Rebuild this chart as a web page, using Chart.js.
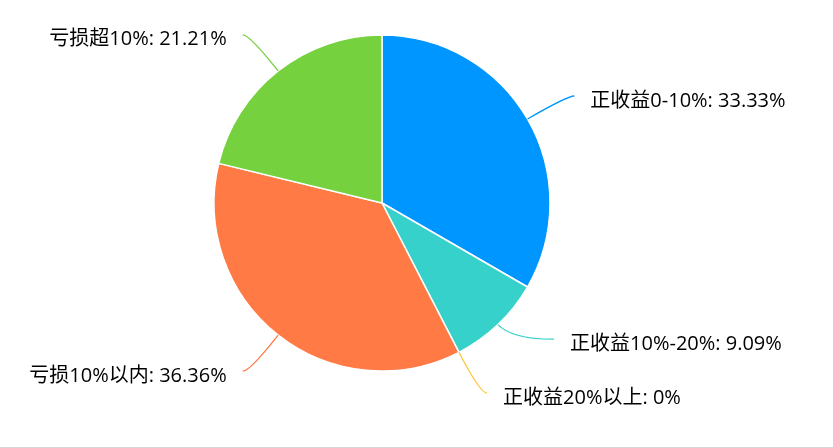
<!DOCTYPE html>
<html>
<head>
<meta charset="utf-8">
<script src="https://cdn.jsdelivr.net/npm/chart.js@4.4.1/dist/chart.umd.min.js"></script>
<style>
  html, body { margin: 0; padding: 0; background: #fff; }
  #box { width: 833px; height: 447px; border-bottom: 1px solid #d6d6d6; }
  canvas { display: block; }
</style>
</head>
<body>
<div id="box"><canvas id="pieChart" width="833" height="447"></canvas></div>
<script>
const categories = ["正收益0-10%", "正收益10%-20%", "正收益20%以上", "亏损10%以内", "亏损超10%"];
const values = [33.33, 9.09, 0, 36.36, 21.21];
const colors = ["#0096ff", "#36d1ca", "#ffc53d", "#ff7a45", "#75d13d"];

const LEN1 = 46;     // first leader segment
const LEN2 = 7;      // horizontal leader segment
const TEXT_GAP = 16;
const MIN_GAP = 54;
const LABEL_FONT = '20px "Open Sans", "Noto Sans CJK SC", sans-serif';

function pctText(v) {
  let total = values.reduce((a, b) => a + b, 0);
  return parseFloat((v / total * 100).toFixed(2)) + "%";
}

const pieLabels = {
  id: "pieLabels",
  afterDatasetsDraw(chart) {
    const ctx = chart.ctx;
    const arcs = chart.getDatasetMeta(0).data;

    let items = arcs.map(function (arc, i) {
      let p = arc.getProps(["x", "y", "startAngle", "endAngle", "outerRadius"], true);
      let mid = (p.startAngle + p.endAngle) / 2;
      let cos = Math.cos(mid), sin = Math.sin(mid);
      let R = p.outerRadius + LEN1;
      return {
        i: i, cx: p.x, cy: p.y, cos: cos, sin: sin, R: R,
        sx: p.x + cos * p.outerRadius,
        sy: p.y + sin * p.outerRadius,
        ey: p.y + sin * R,
        right: cos >= 0
      };
    });

    // push labels apart on each side, bottom one stays
    [true, false].forEach(function (side) {
      let list = items.filter(d => d.right === side).sort((a, b) => b.ey - a.ey);
      for (let k = 1; k < list.length; k++) {
        if (list[k - 1].ey - list[k].ey < MIN_GAP) list[k].ey = list[k - 1].ey - MIN_GAP;
      }
    });

    ctx.save();
    ctx.font = LABEL_FONT;
    ctx.textBaseline = "middle";
    items.forEach(function (d) {
      let dir = d.right ? 1 : -1;
      let dy = d.ey - d.cy;
      let ex = d.cx + dir * Math.sqrt(Math.max(d.R * d.R - dy * dy, 0));
      let endX = ex + dir * LEN2;
      let t = Math.abs(d.sin) > 0.01 ? (d.ey - d.sy) / d.sin : LEN1;
      t = Math.max(0, Math.min(t, LEN1));
      let ctrlX = d.sx + d.cos * t;

      ctx.strokeStyle = colors[d.i];
      ctx.lineWidth = 1.3;
      ctx.beginPath();
      ctx.moveTo(d.sx, d.sy);
      ctx.quadraticCurveTo(ctrlX, d.ey, endX, d.ey);
      ctx.stroke();

      ctx.fillStyle = "#000";
      ctx.textAlign = d.right ? "left" : "right";
      ctx.fillText(categories[d.i] + ": " + pctText(values[d.i]), endX + dir * TEXT_GAP, d.ey + 5);
    });
    ctx.restore();
  }
};

new Chart(document.getElementById("pieChart"), {
  type: "pie",
  data: {
    labels: categories,
    datasets: [
      {
        data: values,
        backgroundColor: colors,
        borderColor: "#fff",
        borderWidth: 1.5,
        radius: 168
      }
    ]
  },
  options: {
    responsive: false,
    animation: false,
    layout: { padding: { left: 214, right: 283, top: 35, bottom: 76 } },
    plugins: {
      legend: { display: false },
      tooltip: { enabled: false }
    }
  },
  plugins: [pieLabels]
});
</script>
</body>
</html>
